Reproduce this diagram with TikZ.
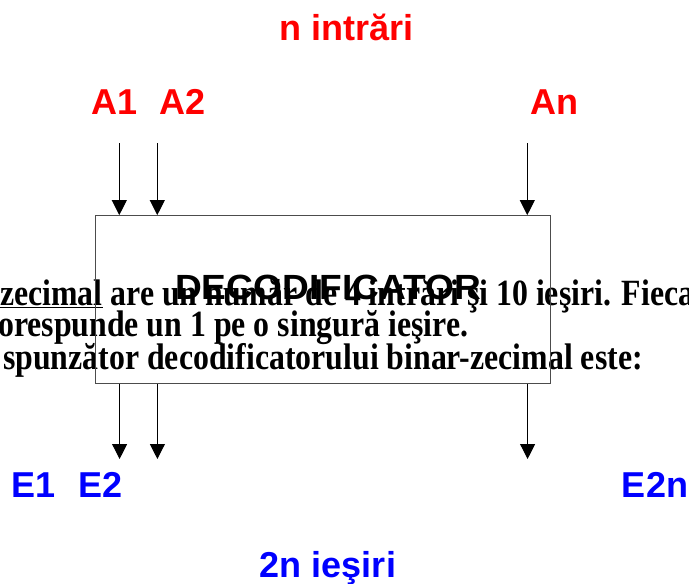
\documentclass[tikz,border=0pt]{standalone}
\usepackage{fontspec}
\usepackage{graphicx}
\setmainfont{Liberation Serif}
\newfontfamily\lsans{Liberation Sans}
\usetikzlibrary{arrows.meta}
\definecolor{pred}{RGB}{255,0,0}
\definecolor{pblue}{RGB}{0,0,255}
\tikzset{
  lbl/.style={font=\lsans\bfseries\fontsize{36}{40}\selectfont, inner sep=0pt, anchor=base},
  inlbl/.style={lbl, text=pred},
  outlbl/.style={lbl, text=pblue},
  bgtext/.style={font=\bfseries\fontsize{37}{40}\selectfont, inner sep=0pt, anchor=base west},
  decbox/.style={draw=black!70, line width=1pt, minimum width=455pt, minimum height=168pt, inner sep=0pt},
  sig/.style={->, line width=1pt, black}
}
\begin{document}
\begin{tikzpicture}[x=1pt,y=1pt, >={Triangle[width=15pt,length=15pt]}]
\useasboundingbox (0,0) rectangle (689,-584);
% background text
\node[bgtext] (t1) at (0,-305) {\scalebox{0.86}[1]{\underline{zecimal} are un număr de 4 intrări şi 10 ieşiri. Fieca}};
\node[bgtext] (t2) at (-2,-336) {\scalebox{0.86}[1]{orespunde un 1 pe o singură ieşire.}};
\node[bgtext] (t3) at (3,-369) {\scalebox{0.86}[1]{spunzător decodificatorului binar-zecimal este:}};
% box
\node[decbox] (box) at (323.4,-299.6) {};
\node[lbl, font=\lsans\bfseries\fontsize{35}{38}\selectfont] (dec) at (328,-299) {\scalebox{1.06}[1]{DECODIFICATOR}};
% titles
\node[inlbl] (nin) at (347,-40) {n intrări};
\node[inlbl] (A1) at (114.5,-114) {A1};
\node[inlbl] (A2) at (183,-114) {A2};
\node[inlbl] (An) at (554.5,-114) {An};
\node[outlbl] (E1) at (34,-497) {E1};
\node[outlbl] (E2) at (100.5,-497) {E2};
\node[outlbl] (E2n) at (655,-497) {E2n};
\node[outlbl] (nout) at (328,-577) {2n ieşiri};
% input arrows
\coordinate (a1s) at (119.3,-143.3);
\coordinate (a2s) at (157.3,-143.3);
\coordinate (ans) at (527.3,-143.3);
\draw[sig] (a1s) -- (a1s |- box.north);
\draw[sig] (a2s) -- (a2s |- box.north);
\draw[sig] (ans) -- (ans |- box.north);
% output arrows
\coordinate (e1t) at (119.6,-459);
\coordinate (e2t) at (157.4,-459);
\coordinate (ent) at (527.6,-459);
\draw[sig] (e1t |- box.south) -- (e1t);
\draw[sig] (e2t |- box.south) -- (e2t);
\draw[sig] (ent |- box.south) -- (ent);
\end{tikzpicture}
\end{document}
